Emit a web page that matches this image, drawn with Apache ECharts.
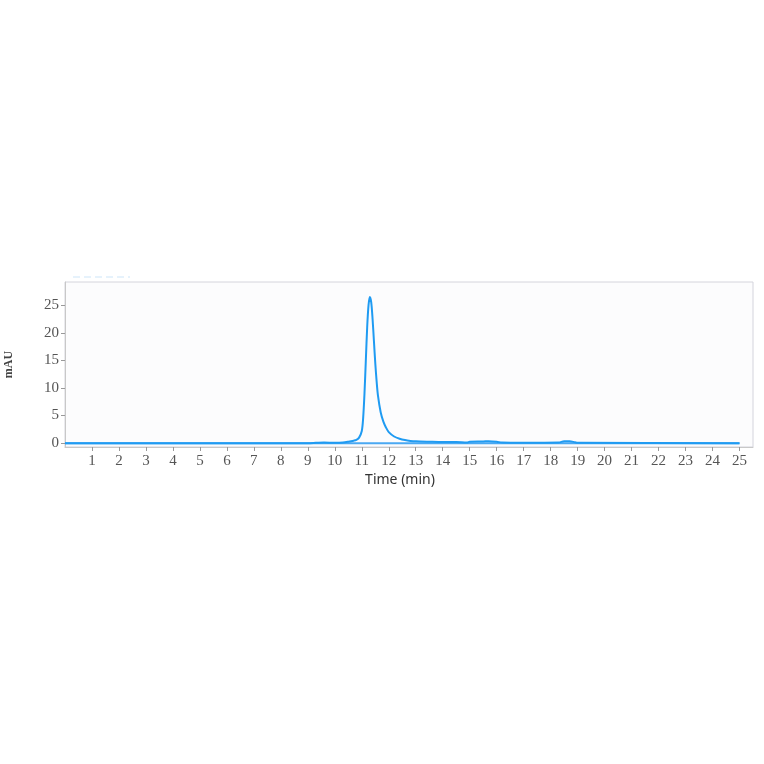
<!DOCTYPE html>
<html><head><meta charset="utf-8">
<script src="https://cdn.jsdelivr.net/npm/echarts@6/dist/echarts.min.js"></script>
<style>html,body{margin:0;padding:0;background:#fff}#c{width:764px;height:764px}</style>
</head><body><div id="c"></div>
<script>
const timeMin = [0, 9.0, 9.3, 9.6, 10.0, 10.3, 10.5, 10.7, 10.8, 10.9, 11.0, 11.05, 11.1, 11.15, 11.2, 11.25, 11.3, 11.35, 11.4, 11.45, 11.5, 11.55, 11.6, 11.7, 11.8, 11.9, 12.0, 12.2, 12.4, 12.6, 12.8, 13.0, 13.5, 14.0, 14.5, 14.9, 15.0, 15.5, 15.7, 16.0, 16.2, 17.0, 18.3, 18.5, 18.7, 18.9, 19.0, 25.0];
const signalMAU = [0, 0, 0.05, 0.1, 0.05, 0.1, 0.25, 0.45, 0.6, 1.0, 2.2, 4.5, 9, 15, 21, 25, 26.5, 25.5, 22.5, 18.5, 14.5, 11.2, 8.6, 5.6, 3.9, 2.8, 2.0, 1.2, 0.8, 0.55, 0.4, 0.32, 0.25, 0.2, 0.2, 0.1, 0.25, 0.3, 0.35, 0.25, 0.1, 0.05, 0.1, 0.35, 0.35, 0.15, 0.05, 0];
const baselineTime = [0, 25];
const baselineMAU = [0, 0];
const xTicks = [1,2,3,4,5,6,7,8,9,10,11,12,13,14,15,16,17,18,19,20,21,22,23,24,25];
const yTicks = [0,5,10,15,20,25];

const chart = echarts.init(document.getElementById('c'), null, {renderer:'canvas'});
const serif = '"Liberation Serif", "DejaVu Serif", serif';
chart.setOption({
  animation: false,
  backgroundColor: '#fff',
  grid: {left: 65, right: 11, top: 282, bottom: 317, show: true, borderColor: '#d4d4dc', borderWidth: 1, backgroundColor: '#fcfcfd', outerBoundsMode: 'none', containLabel: false},
  graphic: [{type:'line', shape:{x1:73,y1:277,x2:130,y2:277}, style:{stroke:'#cde5f8', lineWidth:1, lineDash:[7,4]}}],
  xAxis: {
    type: 'value', min: 0, max: 25.5,
    name: 'Time (min)', nameLocation: 'middle', nameGap: 26,
    nameTextStyle: {color: '#333', fontSize: 14, fontFamily: '"Noto Sans", sans-serif', padding: [0, 18, 0, 0]},
    axisLine: {show: true, onZero: false, lineStyle: {color: '#c8c8c8'}},
    axisTick: {show: true, customValues: xTicks, length: 4, lineStyle: {color: '#999'}},
    axisLabel: {customValues: xTicks, color: '#555', fontSize: 15, fontFamily: serif, margin: 7},
    splitLine: {show: false}
  },
  yAxis: {
    type: 'value', min: -0.7, max: 29.2,
    name: 'mAU', nameLocation: 'middle', nameGap: 50, nameRotate: 90,
    nameTextStyle: {color: '#444', fontSize: 12, fontFamily: serif, fontWeight: 'bold'},
    axisLine: {show: true, lineStyle: {color: '#c8c8c8'}},
    axisTick: {show: true, customValues: yTicks, length: 4, lineStyle: {color: '#999'}},
    axisLabel: {customValues: yTicks, color: '#555', fontSize: 15, fontFamily: serif, margin: 6},
    splitLine: {show: false}
  },
  series: [
    {type: 'line', data: baselineTime.map((t,i)=>[t, baselineMAU[i]]), showSymbol: false, lineStyle: {color: '#4aa8f2', width: 2}},
    {type: 'line', data: timeMin.map((t,i)=>[t, signalMAU[i]]), showSymbol: false, smooth: 0.3, lineStyle: {color: '#1f9bf2', width: 2}}
  ]
});
</script></body></html>
